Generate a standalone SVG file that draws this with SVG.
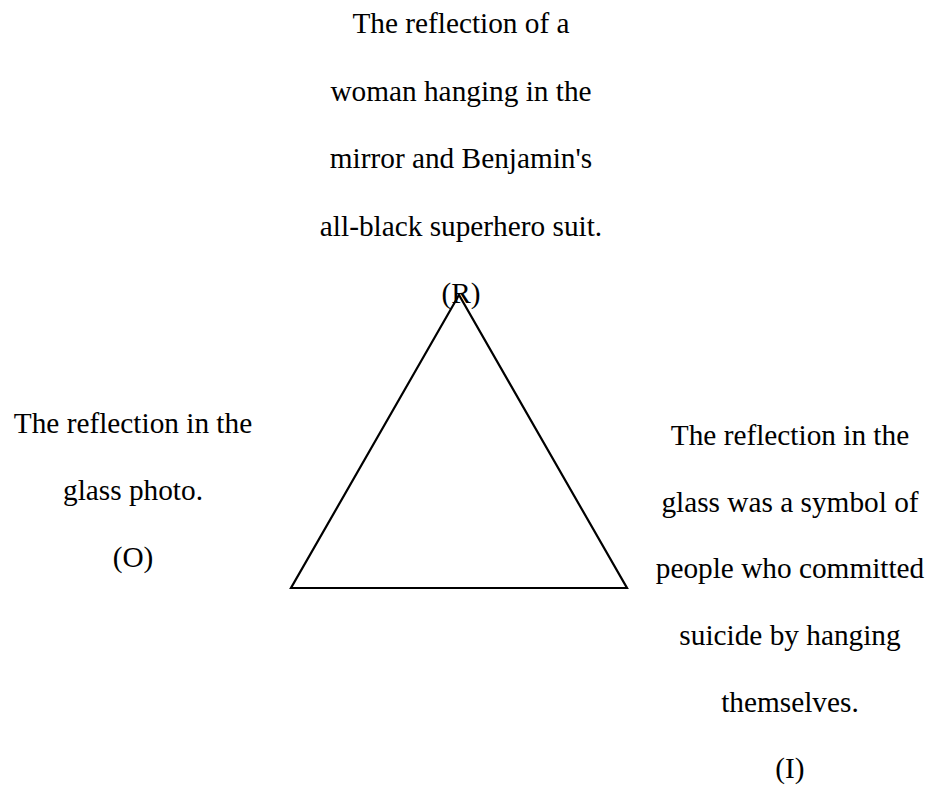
<svg xmlns="http://www.w3.org/2000/svg" width="933" height="789" viewBox="0 0 933 789">
<style>
text{font-family:"Liberation Serif","Times New Roman",serif;font-size:29.3px;fill:#000;text-anchor:middle}
.tri{fill:none;stroke:#000;stroke-width:2.2;stroke-linejoin:miter}
</style>
<rect width="933" height="789" fill="#fff"/>
<g id="connectors">
<polygon class="tri" points="459,295 291,588 627,588"/>
</g>
<g id="node-R">
<text x="461" y="33">The reflection of a</text>
<text x="461" y="101">woman hanging in the</text>
<text x="461" y="168">mirror and Benjamin's</text>
<text x="461" y="236">all-black superhero suit.</text>
<text x="461" y="303">(R)</text>
</g>
<g id="node-O">
<text x="133" y="433">The reflection in the</text>
<text x="133" y="500">glass photo.</text>
<text x="133" y="567">(O)</text>
</g>
<g id="node-I">
<text x="790" y="445">The reflection in the</text>
<text x="790" y="512">glass was a symbol of</text>
<text x="790" y="578">people who committed</text>
<text x="790" y="645">suicide by hanging</text>
<text x="790" y="712">themselves.</text>
<text x="790" y="778">(I)</text>
</g>
</svg>
